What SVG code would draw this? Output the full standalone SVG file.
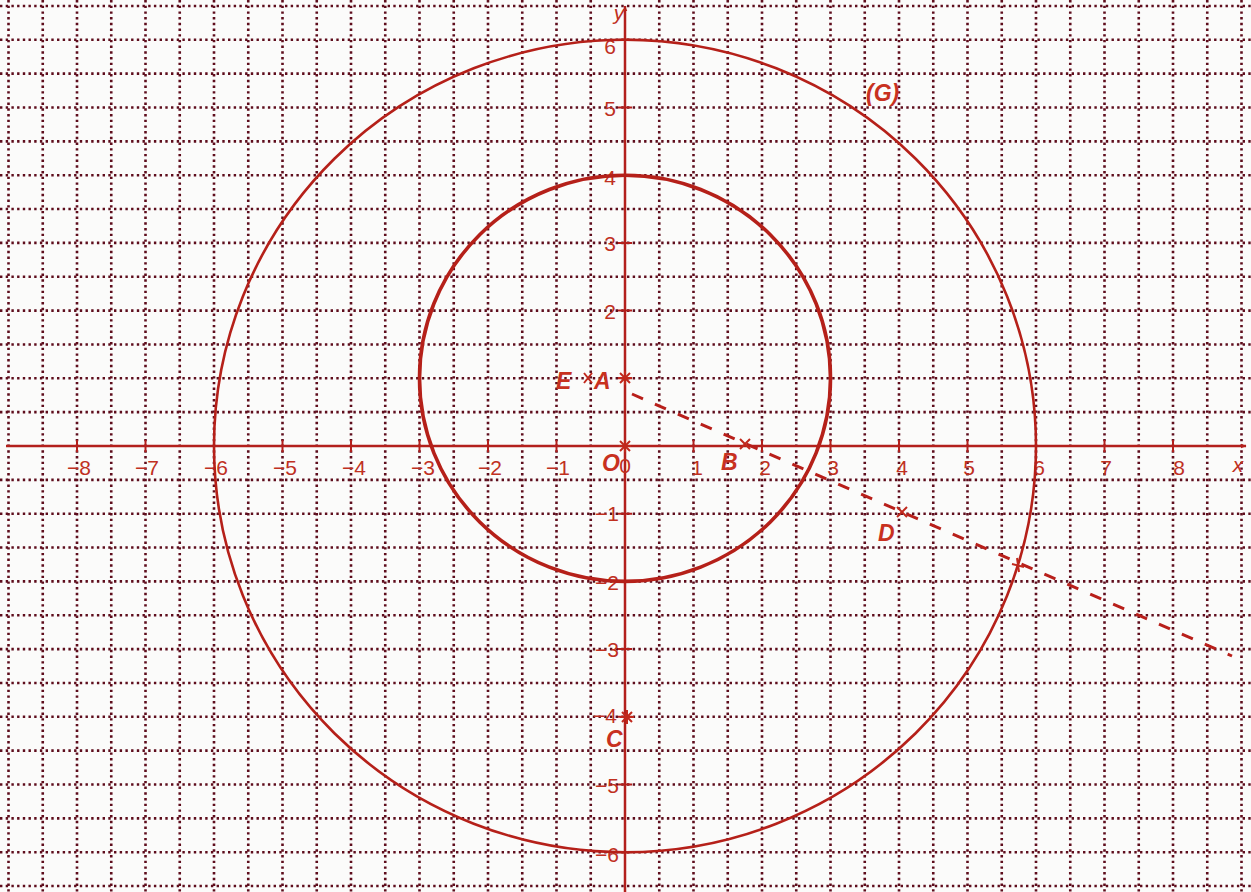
<svg xmlns="http://www.w3.org/2000/svg" width="1251" height="892" viewBox="0 0 1251 892">
<style>
.grid{stroke:#5e0d1c;stroke-width:2.6;stroke-dasharray:2.4 3.3;fill:none}
.axis{stroke:#b3201c;stroke-width:2.5;fill:none}
.tick{stroke:#b3201c;stroke-width:2}
.circ{fill:none;stroke:#b52019}
.lbl{font-family:"Liberation Sans",Arial,sans-serif;font-size:21px;fill:#c0301f}
.pt{font-family:"Liberation Sans",Arial,sans-serif;font-size:23px;font-style:italic;font-weight:bold;fill:#c8311f}
.mark{stroke:#c0281c;stroke-width:2;fill:none}
.dash{stroke:#b81f1a;stroke-width:3;stroke-dasharray:12 13;fill:none}
</style>
<defs>
<marker id="arr" viewBox="0 0 10 10" refX="9" refY="5" markerWidth="6" markerHeight="6" orient="auto" markerUnits="userSpaceOnUse">
<path d="M0,1 L10,5 L0,9 z" fill="#b3201c"/>
</marker>
</defs>
<rect width="1251" height="892" fill="#fbfbfa"/>
<g id="grid">
<path class="grid" d="M8.5 0V892M42.75 0V892M77 0V892M111.25 0V892M145.5 0V892M179.75 0V892M214 0V892M248.25 0V892M282.5 0V892M316.75 0V892M351 0V892M385.25 0V892M419.5 0V892M453.75 0V892M488 0V892M522.25 0V892M556.5 0V892M590.75 0V892M659.25 0V892M693.5 0V892M727.75 0V892M762 0V892M796.25 0V892M830.5 0V892M864.75 0V892M899 0V892M933.25 0V892M967.5 0V892M1001.75 0V892M1036 0V892M1070.25 0V892M1104.5 0V892M1138.75 0V892M1173 0V892M1207.25 0V892M1241.5 0V892"/>
<path class="grid" d="M0 5.95H1251M0 39.8H1251M0 73.65H1251M0 107.5H1251M0 141.35H1251M0 175.2H1251M0 209.05H1251M0 242.9H1251M0 276.75H1251M0 310.6H1251M0 344.45H1251M0 378.3H1251M0 412.15H1251M0 479.85H1251M0 513.7H1251M0 547.55H1251M0 581.4H1251M0 615.25H1251M0 649.1H1251M0 682.95H1251M0 716.8H1251M0 750.65H1251M0 784.5H1251M0 818.35H1251M0 852.2H1251M0 886.05H1251"/>
</g>
<g id="axes">
<line class="axis" x1="6" y1="446" x2="1246" y2="446" marker-end="url(#arr)"/>
<line class="axis" x1="625" y1="892" x2="625" y2="6" marker-end="url(#arr)"/>
<path class="tick" d="M77 440V452M145.5 440V452M214 440V452M282.5 440V452M351 440V452M419.5 440V452M488 440V452M556.5 440V452M693.5 440V452M762 440V452M830.5 440V452M899 440V452M967.5 440V452M1036 440V452M1104.5 440V452M1173 440V452"/>
<path class="tick" d="M618 39.8H632M618 107.5H632M618 175.2H632M618 242.9H632M618 310.6H632M618 378.3H632M618 513.7H632M618 581.4H632M618 649.1H632M618 716.8H632M618 784.5H632M618 852.2H632"/>
<text class="lbl" x="1238" y="472" font-style="italic" text-anchor="middle">x</text>
<text class="lbl" x="619" y="20" font-style="italic" font-size="15" text-anchor="middle">y</text>
</g>
<g id="x-labels" class="lbl" text-anchor="middle">
<text x="79" y="475">−8</text>
<text x="147" y="475">−7</text>
<text x="216" y="475">−6</text>
<text x="285" y="475">−5</text>
<text x="354" y="475">−4</text>
<text x="423" y="475">−3</text>
<text x="490" y="475">−2</text>
<text x="558" y="475">−1</text>
<text x="625" y="473">0</text>
<text x="697" y="475">1</text>
<text x="765" y="475">2</text>
<text x="833" y="475">3</text>
<text x="902" y="475">4</text>
<text x="969" y="475">5</text>
<text x="1039" y="475">6</text>
<text x="1106" y="475">7</text>
<text x="1179" y="475">8</text>
</g>
<g id="y-labels" class="lbl" text-anchor="end">
<text x="616" y="54">6</text>
<text x="616" y="116">5</text>
<text x="616" y="185">4</text>
<text x="616" y="251">3</text>
<text x="616" y="319">2</text>
<text x="619" y="521">−1</text>
<text x="619" y="590">−2</text>
<text x="619" y="657">−3</text>
<text x="617" y="723">−4</text>
<text x="619" y="793">−5</text>
<text x="619" y="862">−6</text>
</g>
<g id="circle-G">
<ellipse class="circ" cx="625" cy="446" rx="411" ry="406.2" stroke-width="2.6"/>
<text class="pt" x="866" y="101" fill="#a01d1a" font-size="26">(G)</text>
</g>
<g id="circle-A">
<ellipse class="circ" cx="625" cy="378.3" rx="205.5" ry="203.1" stroke-width="3.6"/>
</g>
<g id="connectors">
<line class="dash" x1="632" y1="394" x2="1232" y2="656"/>
<path class="mark" d="M1012 564L1024 567M1017 558L1019 572"/>
</g>
<g id="point-A">
<path class="mark" d="M618 378H632M625 371V385M620 373L630 383M630 373L620 383"/>
<text class="pt" x="594" y="389">A</text>
</g>
<g id="point-E">
<path class="mark" d="M584 373L592 383M592 373L584 383"/>
<text class="pt" x="556" y="389">E</text>
</g>
<g id="point-O">
<path class="mark" d="M619 446H631M625 440V452M620 441L630 451M630 441L620 451"/>
<text class="pt" x="602" y="471">O</text>
</g>
<g id="point-B">
<path class="mark" d="M740 439L750 449M750 439L740 449"/>
<text class="pt" x="721" y="470">B</text>
</g>
<g id="point-D">
<path class="mark" d="M897 507L907 517M907 507L897 517"/>
<text class="pt" x="878" y="541">D</text>
</g>
<g id="point-C">
<path class="mark" d="M620 717H634M627 710V724M622 712L632 722M632 712L622 722"/>
<text class="pt" x="606" y="747">C</text>
</g>
</svg>
